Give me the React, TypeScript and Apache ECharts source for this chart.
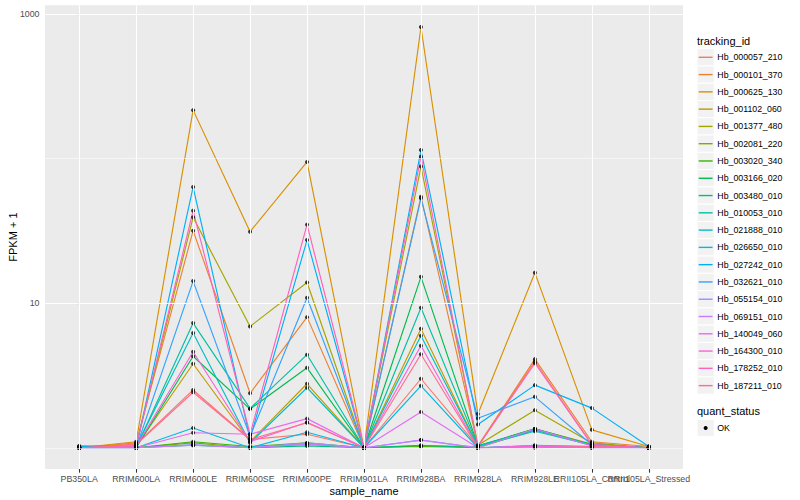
import React, { useEffect, useRef } from "react";
import * as echarts from "echarts";

const FONT = "'Liberation Sans', Arial, Helvetica, sans-serif";

const categories = [
  "PB350LA", "RRIM600LA", "RRIM600LE", "RRIM600SE", "RRIM600PE", "RRIM901LA",
  "RRIM928BA", "RRIM928LA", "RRIM928LE", "RRII105LA_Control", "RRII105LA_Stressed",
];

const trackingIds = [
  "Hb_000057_210", "Hb_000101_370", "Hb_000625_130", "Hb_001102_060", "Hb_001377_480",
  "Hb_002081_220", "Hb_003020_340", "Hb_003166_020", "Hb_003480_010", "Hb_010053_010",
  "Hb_021888_010", "Hb_026650_010", "Hb_027242_010", "Hb_032621_010", "Hb_055154_010",
  "Hb_069151_010", "Hb_140049_060", "Hb_164300_010", "Hb_178252_010", "Hb_187211_010",
];

const trackingColors = [
  "#F8766D", "#EA8331", "#D89000", "#C09B00", "#A3A500", "#7CAE00", "#39B600", "#00BB4E",
  "#00BF7D", "#00C1A3", "#00BFC4", "#00BAE0", "#00B0F6", "#35A2FF", "#9590FF", "#C77CFF",
  "#E76BF3", "#FA62DB", "#FF62BC", "#FF6C91",
];

// FPKM + 1 per sample, in the order of `categories`
const hb000057_210 = [1.0, 1.06, 2.51, 1.14, 1.24, 1.0, 3.0, 1.02, 3.95, 1.05, 1.0];
const hb000101_370 = [1.0, 1.08, 31.7, 2.38, 8.0, 1.0, 54.4, 1.03, 4.1, 1.1, 1.02];
const hb000625_130 = [1.0, 1.1, 216, 31.2, 94.6, 1.0, 811, 1.71, 16.2, 1.33, 1.02];
const hb001102_060 = [1.0, 1.02, 3.81, 1.1, 2.77, 1.0, 6.65, 1.02, 1.35, 1.06, 1.0];
const hb001377_480 = [1.0, 1.03, 39.2, 6.9, 13.9, 1.0, 88, 1.04, 1.82, 1.08, 1.0];
const hb002081_220 = [1.0, 1.0, 1.08, 1.0, 1.06, 1.0, 1.02, 1.0, 1.33, 1.04, 1.0];
const hb003020_340 = [1.0, 1.0, 1.1, 1.02, 1.08, 1.0, 1.03, 1.02, 1.35, 1.05, 1.0];
const hb003166_020 = [1.0, 1.0, 4.29, 1.85, 3.57, 1.0, 15.2, 1.03, 1.35, 1.04, 1.0];
const hb003480_010 = [1.0, 1.0, 1.04, 1.0, 1.03, 1.0, 1.04, 1.0, 1.02, 1.0, 1.0];
const hb010053_010 = [1.0, 1.0, 7.28, 1.87, 4.4, 1.0, 9.3, 1.03, 1.33, 1.05, 1.0];
const hb021888_010 = [1.03, 1.02, 6.21, 1.08, 2.6, 1.0, 5.95, 1.02, 1.3, 1.04, 1.0];
const hb026650_010 = [1.02, 1.0, 1.37, 1.0, 1.28, 1.0, 2.68, 1.0, 1.04, 1.02, 1.0];
const hb027242_010 = [1.02, 1.0, 63.5, 1.16, 27.3, 1.0, 114.5, 1.45, 2.71, 1.88, 1.02];
const hb032621_010 = [1.0, 1.0, 14.2, 1.2, 10.9, 1.0, 53, 1.6, 2.25, 1.05, 1.0];
const hb055154_010 = [1.0, 1.0, 1.05, 1.0, 1.08, 1.0, 1.13, 1.0, 1.03, 1.0, 1.0];
const hb069151_010 = [1.0, 1.0, 1.04, 1.0, 1.06, 1.0, 1.13, 1.0, 1.35, 1.03, 1.0];
const hb140049_060 = [1.0, 1.0, 1.27, 1.24, 1.59, 1.0, 1.77, 1.0, 1.02, 1.0, 1.0];
const hb164300_010 = [1.0, 1.02, 4.61, 1.1, 1.5, 1.0, 5.07, 1.0, 1.03, 1.02, 1.0];
const hb178252_010 = [1.0, 1.03, 43.6, 1.24, 34.9, 1.0, 103, 1.02, 3.84, 1.05, 1.0];
const hb187211_010 = [1.0, 1.05, 2.42, 1.14, 1.49, 1.0, 4.43, 1.0, 1.0, 1.02, 1.0];

const seriesValues = [
  hb000057_210, hb000101_370, hb000625_130, hb001102_060, hb001377_480,
  hb002081_220, hb003020_340, hb003166_020, hb003480_010, hb010053_010,
  hb021888_010, hb026650_010, hb027242_010, hb032621_010, hb055154_010,
  hb069151_010, hb140049_060, hb164300_010, hb178252_010, hb187211_010,
];

const quantStatus = ["OK"];
const yMajorTicks = [10, 1000];
const yMinorLines = [1, 100];
const xTickValues = categories.map((_, i) => i);
const xLabelsEven = xTickValues.filter((i) => i % 2 === 0);
const xLabelsOdd = xTickValues.filter((i) => i % 2 === 1);

export default function App() {
  const ref = useRef<HTMLDivElement>(null);

  useEffect(() => {
    if (!ref.current) return;
    const chart = echarts.init(ref.current, undefined, { renderer: "svg" });

    const lineSeries = trackingIds.map((name, k) => ({
      name,
      type: "line",
      data: seriesValues[k].map((v, i) => [i, v]),
      showSymbol: false,
      symbol: "none",
      silent: true,
      z: 2,
      lineStyle: { color: trackingColors[k], width: 1.15 },
      itemStyle: { color: trackingColors[k] },
    }));

    const points: number[][] = [];
    seriesValues.forEach((vals) => vals.forEach((v, i) => points.push([i, v])));

    const gridSeries = {
      type: "line",
      data: [[0, 1]],
      showSymbol: false,
      symbol: "none",
      silent: true,
      z: 1,
      lineStyle: { opacity: 0 },
      markLine: {
        silent: true,
        symbol: "none",
        label: { show: false },
        animation: false,
        data: [
          ...yMinorLines.map((v) => ({ yAxis: v, lineStyle: { color: "#FFFFFF", width: 0.55, type: "solid" } })),
          ...yMajorTicks.map((v) => ({ yAxis: v, lineStyle: { color: "#FFFFFF", width: 1.1, type: "solid" } })),
          ...xTickValues.map((v) => ({ xAxis: v, lineStyle: { color: "#FFFFFF", width: 1.1, type: "solid" } })),
        ],
      },
    };

    const scatter = {
      type: "scatter",
      data: points,
      symbol: "circle",
      symbolSize: 4,
      silent: true,
      z: 3,
      itemStyle: { color: "#000000" },
    };

    // legend drawn as graphic elements (ggplot style keys)
    const legendX = 697;
    const keySize = 17.28;
    const firstY = 57.3;
    const graphics: any[] = [];
    graphics.push({
      type: "text",
      x: legendX,
      y: 40.7,
      style: { text: "tracking_id", fill: "#000000", fontSize: 11, fontFamily: FONT, verticalAlign: "middle", align: "left" },
    });
    trackingIds.forEach((name, k) => {
      const cy = firstY + k * keySize;
      graphics.push({
        type: "rect",
        shape: { x: legendX, y: cy - keySize / 2, width: keySize, height: keySize },
        style: { fill: "#F2F2F2", stroke: "#FFFFFF", lineWidth: 1 },
      });
      graphics.push({
        type: "line",
        shape: { x1: legendX + 1.7, y1: cy, x2: legendX + keySize - 1.7, y2: cy },
        style: { stroke: trackingColors[k], lineWidth: 1.4 },
      });
      graphics.push({
        type: "text",
        x: legendX + keySize + 3,
        y: cy,
        style: { text: name, fill: "#000000", fontSize: 8.8, fontFamily: FONT, verticalAlign: "middle", align: "left" },
      });
    });
    graphics.push({
      type: "text",
      x: legendX,
      y: 411,
      style: { text: "quant_status", fill: "#000000", fontSize: 11, fontFamily: FONT, verticalAlign: "middle", align: "left" },
    });
    quantStatus.forEach((s, k) => {
      const cy = 428 + k * keySize;
      graphics.push({
        type: "rect",
        shape: { x: legendX, y: cy - keySize / 2, width: keySize, height: keySize },
        style: { fill: "#F2F2F2", stroke: "#FFFFFF", lineWidth: 1 },
      });
      graphics.push({
        type: "circle",
        shape: { cx: legendX + keySize / 2, cy, r: 2 },
        style: { fill: "#000000" },
      });
      graphics.push({
        type: "text",
        x: legendX + keySize + 3,
        y: cy,
        style: { text: s, fill: "#000000", fontSize: 8.8, fontFamily: FONT, verticalAlign: "middle", align: "left" },
      });
    });

    const xLabelStyle = {
      formatter: (v: number) => categories[Math.round(v)],
      color: "#4D4D4D",
      fontSize: 8.8,
      fontFamily: FONT,
      margin: 5.0,
      showMinLabel: true,
      showMaxLabel: true,
      hideOverlap: false,
    };

    const option: any = {
      animation: false,
      backgroundColor: "#FFFFFF",
      textStyle: { fontFamily: FONT },
      grid: {
        left: 45,
        right: 117,
        top: 5.2,
        bottom: 31,
        show: true,
        backgroundColor: "#EBEBEB",
        borderWidth: 0,
        containLabel: false,
        outerBoundsMode: "none",
      },
      xAxis: [
        {
          type: "value",
          position: "bottom",
          min: -0.6,
          max: 10.6,
          axisLine: { show: false },
          axisTick: {
            show: true,
            customValues: xTickValues,
            length: 3.7,
            lineStyle: { color: "#333333", width: 1.07 },
          },
          axisLabel: { ...xLabelStyle, customValues: xLabelsEven },
          splitLine: { show: false },
          name: "sample_name",
          nameLocation: "middle",
          nameGap: 16.5,
          nameMoveOverlap: false,
          nameTextStyle: { color: "#000000", fontSize: 11, fontFamily: FONT },
        },
        {
          type: "value",
          position: "bottom",
          offset: 0,
          min: -0.6,
          max: 10.6,
          axisLine: { show: false },
          axisTick: { show: false },
          axisLabel: { ...xLabelStyle, customValues: xLabelsOdd },
          splitLine: { show: false },
        },
      ],
      yAxis: {
        type: "log",
        logBase: 10,
        min: 0.713,
        max: 1148,
        axisLine: { show: false },
        axisTick: {
          show: true,
          customValues: yMajorTicks,
          length: 3.7,
          lineStyle: { color: "#333333", width: 1.07 },
        },
        axisLabel: {
          customValues: yMajorTicks,
          formatter: (v: number) => String(Math.round(v)),
          color: "#4D4D4D",
          fontSize: 8.8,
          fontFamily: FONT,
          margin: 5.5,
          showMinLabel: true,
          showMaxLabel: true,
        },
        splitLine: { show: false },
        name: "FPKM + 1",
        nameLocation: "middle",
        nameGap: 26.5,
        nameMoveOverlap: false,
        nameTextStyle: { color: "#000000", fontSize: 11, fontFamily: FONT },
      },
      graphic: graphics,
      series: [gridSeries, ...lineSeries, scatter],
    };

    chart.setOption(option);
    return () => chart.dispose();
  }, []);

  return (
    <div
      ref={ref}
      style={{ position: "fixed", left: 0, top: 0, width: 800, height: 500, background: "#FFFFFF" }}
    />
  );
}
